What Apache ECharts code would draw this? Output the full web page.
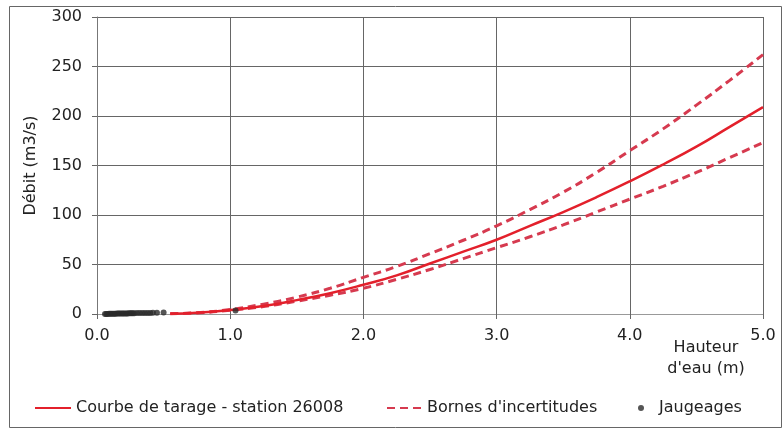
<!DOCTYPE html>
<html>
<head>
<meta charset="utf-8">
<script src="https://cdn.jsdelivr.net/npm/echarts@6/dist/echarts.min.js"></script>
<style>
html, body { margin: 0; padding: 0; background: #fff; }
#main { width: 784px; height: 430px; }
</style>
</head>
<body>
<div id="main"></div>
<script>
// hauteurs (m) ou sont lues les courbes
var hauteurs = [0.55, 0.75, 1.0, 1.25, 1.5, 1.75, 2.0, 2.25, 2.5, 2.75, 3.0, 3.25, 3.5, 3.75, 4.0, 4.25, 4.5, 4.75, 5.0];
var courbe = [0.3, 1.2, 4, 8, 14, 21, 29.5, 39, 51, 63, 75, 89, 103, 118, 134, 151, 169, 189, 209];
var borneHaute = [0.3, 1.3, 4.5, 10, 17, 26, 37, 48, 61, 74.5, 89, 105.5, 123, 143, 165, 187, 211, 236, 262];
var borneBasse = [0.3, 1.1, 3.8, 7.5, 13, 19, 26, 35, 45, 56, 67, 78, 90, 103, 116, 129, 143, 158, 173];

// jaugeages
var jaugeH = [0.06, 0.07, 0.08, 0.09, 0.10, 0.11, 0.12, 0.13, 0.14, 0.15, 0.16, 0.17, 0.18, 0.19, 0.20, 0.21, 0.22, 0.23, 0.24, 0.25, 0.26, 0.27, 0.28, 0.30, 0.32, 0.34, 0.36, 0.38, 0.40, 0.42, 0.45, 0.50, 1.04];
var jaugeQ = [0.1, 0.1, 0.1, 0.2, 0.2, 0.2, 0.3, 0.3, 0.3, 0.4, 0.4, 0.4, 0.5, 0.5, 0.5, 0.6, 0.6, 0.6, 0.7, 0.7, 0.7, 0.8, 0.8, 0.9, 0.9, 1.0, 1.0, 1.1, 1.1, 1.2, 1.3, 1.5, 3.5];

var xTicks = ['0.0', '1.0', '2.0', '3.0', '4.0', '5.0'];

function pairs(xs, ys) {
    var out = [];
    for (var i = 0; i < xs.length; i++) {
        out.push([xs[i], ys[i]]);
    }
    return out;
}

var police = 'DejaVu Sans';
var rouge = '#e3202b';
var rougeTirets = '#d63a4f';

var option = {
    animation: false,
    backgroundColor: '#fff',
    textStyle: { fontFamily: police },
    grid: {
        left: 97,
        right: 21,
        top: 17,
        bottom: 116,
        outerBoundsMode: 'none'
    },
    xAxis: {
        type: 'value',
        min: 0,
        max: 5,
        interval: 1,
        axisLine: { show: true, onZero: false, lineStyle: { color: '#999', width: 1 } },
        axisTick: { show: true, length: 5, lineStyle: { color: '#666' } },
        axisLabel: {
            margin: 14,
            fontSize: 16,
            color: '#222',
            fontFamily: police,
            formatter: function (v) { return xTicks[Math.round(v)]; }
        },
        splitLine: { show: true, lineStyle: { color: '#666', width: 1 } }
    },
    yAxis: {
        type: 'value',
        min: 0,
        max: 300,
        interval: 50,
        name: 'Débit (m3/s)',
        nameLocation: 'middle',
        nameGap: 58,
        nameTextStyle: { fontSize: 16, color: '#222', fontFamily: police },
        axisLine: { show: true, lineStyle: { color: '#777', width: 1 } },
        axisTick: { show: true, length: 5, lineStyle: { color: '#666' } },
        axisLabel: { margin: 15, fontSize: 16, color: '#222', fontFamily: police },
        splitLine: { show: true, lineStyle: { color: '#666', width: 1 } }
    },
    legend: [{
        data: ['Courbe de tarage - station 26008'],
        left: 29,
        top: 395,
        itemWidth: 36,
        itemHeight: 14,
        itemStyle: { opacity: 0 },
        textStyle: { fontSize: 16, color: '#222', fontFamily: police }
    }, {
        data: ['Bornes d\'incertitudes'],
        left: 381,
        top: 395,
        itemWidth: 35,
        itemHeight: 14,
        itemStyle: { opacity: 0 },
        textStyle: { fontSize: 16, color: '#222', fontFamily: police }
    }, {
        data: [{ name: 'Jaugeages', icon: 'circle' }],
        left: 633,
        top: 395,
        itemWidth: 26,
        itemHeight: 6,
        textStyle: { fontSize: 16, color: '#222', fontFamily: police }
    }],
    graphic: [{
        type: 'rect',
        shape: { x: 9.5, y: 6.5, width: 772, height: 421 },
        style: { fill: 'none', stroke: '#666', lineWidth: 1 },
        silent: true
    }, {
        type: 'text',
        x: 706,
        y: 337,
        style: {
            text: 'Hauteur\nd\'eau (m)',
            align: 'center',
            verticalAlign: 'top',
            font: '16px ' + police,
            lineHeight: 21,
            fill: '#222'
        }
    }],
    series: [{
        name: 'Bornes d\'incertitudes',
        type: 'line',
        smooth: true,
        symbol: 'none',
        lineStyle: { color: rougeTirets, width: 3, type: [8, 5] },
        itemStyle: { color: rougeTirets },
        data: pairs(hauteurs, borneHaute),
        z: 3
    }, {
        name: 'Bornes d\'incertitudes',
        type: 'line',
        smooth: true,
        symbol: 'none',
        lineStyle: { color: rougeTirets, width: 3, type: [8, 5] },
        itemStyle: { color: rougeTirets },
        data: pairs(hauteurs, borneBasse),
        z: 3
    }, {
        name: 'Courbe de tarage - station 26008',
        type: 'line',
        smooth: true,
        symbol: 'none',
        lineStyle: { color: rouge, width: 2.5 },
        itemStyle: { color: rouge },
        data: pairs(hauteurs, courbe),
        z: 4
    }, {
        name: 'Jaugeages',
        type: 'scatter',
        symbolSize: 6,
        itemStyle: { color: '#2a2a2a' },
        data: pairs(jaugeH, jaugeQ),
        z: 5
    }]
};

var myChart = echarts.init(document.getElementById('main'));
myChart.setOption(option);
</script>
</body>
</html>
